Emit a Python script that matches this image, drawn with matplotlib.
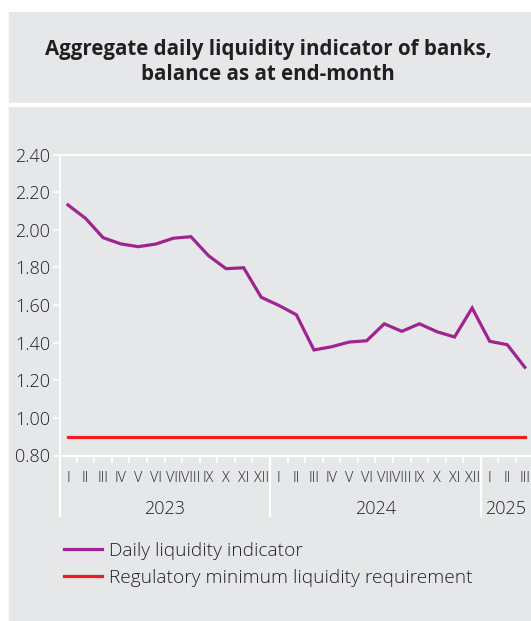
import matplotlib
matplotlib.use("Agg")
import matplotlib.pyplot as plt
from matplotlib.patches import Rectangle
from matplotlib.lines import Line2D
import matplotlib.transforms as mtransforms

plt.rcParams['font.family'] = ['Open Sans', 'DejaVu Sans']
plt.rcParams['font.weight'] = 'light'

# ---- data ----
month_labels = ["I", "II", "III", "IV", "V", "VI", "VII", "VIII", "IX", "X", "XI", "XII",
                "I", "II", "III", "IV", "V", "VI", "VII", "VIII", "IX", "X", "XI", "XII",
                "I", "II", "III"]
years = ["2023", "2024", "2025"]
year_lengths = [12, 12, 3]
liquidity = [2.132, 2.061, 1.958, 1.925, 1.910, 1.924, 1.955, 1.963, 1.862, 1.793,
             1.798, 1.641, 1.598, 1.548, 1.361, 1.378, 1.403, 1.410, 1.500, 1.460,
             1.500, 1.458, 1.430, 1.584, 1.407, 1.389, 1.269]
minimum_req = [0.90] * len(liquidity)
yticks = [0.80, 1.00, 1.20, 1.40, 1.60, 1.80, 2.00, 2.20, 2.40]

title = "Aggregate daily liquidity indicator of banks,\nbalance as at end-month"
series_names = ["Daily liquidity indicator", "Regulatory minimum liquidity requirement"]

# ---- style ----
BG = "#e6e7e8"
PURPLE = "#a0248f"
RED = "#ed1c24"
TXT = "#231f20"
W, H = 531, 621

fig = plt.figure(figsize=(W / 100, H / 100), dpi=100, facecolor="white")
# gray panels
fig.patches.append(Rectangle((9 / W, 0), (W - 9) / W, (H - 12) / H,
                             transform=fig.transFigure, color=BG, zorder=-10))
fig.patches.append(Rectangle((9 / W, 1 - 106 / H), (W - 9) / W, 3 / H,
                             transform=fig.transFigure, color="white", zorder=-9))
fig.text(268 / W, 1 - 61.5 / H, title, ha="center", va="center", fontsize=14.8,
         fontweight="bold", color=TXT, linespacing=1.25)

ax_left, ax_right, ax_top, ax_bot = 60, 531, 154.5, 455.5
ax = fig.add_axes([ax_left / W, 1 - ax_bot / H, (ax_right - ax_left) / W, (ax_bot - ax_top) / H])
ax.set_facecolor(BG)
ax.patch.set_alpha(0)

x = list(range(len(liquidity)))
l1, = ax.plot(x, liquidity, color=PURPLE, lw=2.3, solid_joinstyle="miter", zorder=3)
l2, = ax.plot(x, minimum_req, color=RED, lw=2.3, zorder=3)

ax.set_xlim(-0.45, 26.35)
ax.set_ylim(0.80, 2.40)

for s in ["right", "bottom", "top"]:
    ax.spines[s].set_visible(False)
ax.spines["left"].set_color("white")
ax.spines["left"].set_linewidth(1.3)
ax.axhline(2.40, color="white", lw=1.6, zorder=1, clip_on=False)
ax.axhline(0.80, color="white", lw=1.6, zorder=1, clip_on=False)

ax.set_yticks(yticks)
ax.set_yticklabels([f"{v:.2f}" for v in yticks])
ax.tick_params(axis="y", colors="white", length=5, width=1.2, labelcolor=TXT,
               labelsize=13, pad=2)

ax.set_xticks(x)
ax.set_xticklabels(month_labels)
ax.tick_params(axis="x", which="major", length=0, labelsize=10.4, labelcolor=TXT, pad=11)
# month boundary ticks
starts = [0]
for n in year_lengths[:-1]:
    starts.append(starts[-1] + n)
boundaries = [b - 0.5 for b in starts[1:]]
minor = [i + 0.5 for i in range(len(liquidity) - 1) if (i + 0.5) not in boundaries]
ax.set_xticks(minor, minor=True)
ax.tick_params(axis="x", which="minor", length=5, width=1.2, color="white")

trans = mtransforms.blended_transform_factory(ax.transData, ax.transAxes)
drop = 60 / (ax_bot - ax_top)
for b in boundaries:
    ax.add_line(Line2D([b, b], [0, -drop], transform=trans, color="white", lw=1.6, clip_on=False))
ax.add_line(Line2D([0, 0], [0, -drop], transform=ax.transAxes, color="white", lw=1.6, clip_on=False))

xmin, xmax = ax.get_xlim()
for yr, st, n in zip(years, starts, year_lengths):
    lo = max(st - 0.5, xmin)
    hi = min(st + n - 0.5, xmax)
    ax.text((lo + hi) / 2, -53.5 / (ax_bot - ax_top), yr, transform=trans, ha="center",
            va="center", fontsize=13, color=TXT)

fig.legend([l1, l2], series_names, loc="upper left",
           bbox_to_anchor=(64 / W, 1 - 542 / H), frameon=False, fontsize=13.8,
           handlelength=2.0, handletextpad=0.36, labelspacing=0.45,
           borderpad=0, borderaxespad=0, labelcolor=TXT)

fig.savefig("out.png", dpi=100, facecolor="white")
